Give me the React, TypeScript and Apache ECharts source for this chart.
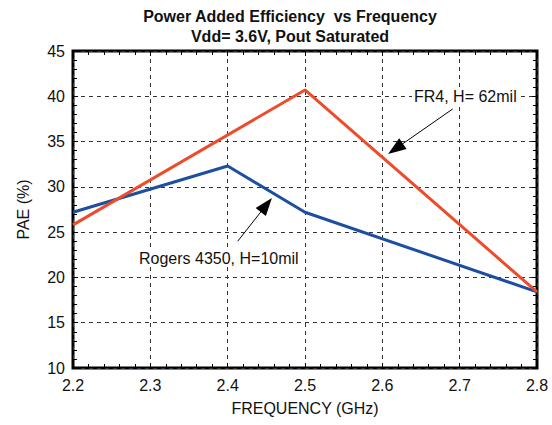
import React, { useEffect, useRef } from "react";
import * as echarts from "echarts";

const fr4Freq = [2.2, 2.5, 2.8];
const fr4Pae = [25.8, 40.7, 18.4];
const rogersFreq = [2.2, 2.4, 2.5, 2.8];
const rogersPae = [27.2, 32.3, 27.2, 18.4];

const fr4Arrow = [[2.691, 38.6], [2.617, 34.2]];
const rogersArrow = [[2.413, 24.0], [2.450, 28.0]];

const titleLines = ["Power Added Efficiency  vs Frequency", "Vdd= 3.6V, Pout Saturated"];
const fr4Label = "FR4, H= 62mil";
const rogersLabel = "Rogers 4350, H=10mil";

const FONT = "'Liberation Sans', Arial, Helvetica, sans-serif";

export default function App() {
  const ref = useRef<HTMLDivElement>(null);
  useEffect(() => {
    if (!ref.current) return;
    const chart = echarts.init(ref.current, null, { renderer: "svg" });
    const zip = (xs: number[], ys: number[]) => xs.map((x, i) => [x, ys[i]]);
    const gridDash = { show: true, lineStyle: { color: "#333", type: [4, 4] as any, width: 1 } };
    const arrowLine = (pts: number[][]) => ({
      silent: true,
      symbol: ["none", "triangle"],
      symbolSize: [13, 18],
      label: { show: false },
      lineStyle: { color: "#000", width: 1, type: "solid" },
      data: [[
        { coord: pts[0], symbol: "none" },
        { coord: pts[1], symbol: "triangle", symbolSize: [13, 18] },
      ]],
    });
    const tick = { show: true, inside: true, length: 5, lineStyle: { color: "#000" } };
    const minor = { show: true, splitNumber: 5, length: 4, lineStyle: { color: "#000" } };
    chart.setOption({
      animation: false,
      backgroundColor: "#fff",
      textStyle: { fontFamily: FONT },
      title: {
        text: titleLines.join("\n"),
        left: 285,
        top: 1,
        textAlign: "center",
        textStyle: { fontSize: 16, fontWeight: "bold", color: "#111", lineHeight: 20, fontFamily: FONT },
      },
      grid: {
        left: 73, top: 51, width: 464, height: 317,
        show: true, borderColor: "#000", borderWidth: 3, backgroundColor: "transparent",
      },
      xAxis: [
        {
          type: "value", min: 2.2, max: 2.8, interval: 0.1,
          name: "FREQUENCY (GHz)", nameLocation: "middle", nameGap: 32,
          nameTextStyle: { fontSize: 16, color: "#111", fontFamily: FONT },
          axisLine: { show: false },
          axisTick: tick,
          minorTick: minor,
          axisLabel: { fontSize: 16, color: "#111", margin: 9, formatter: (v: number) => v.toFixed(1), fontFamily: FONT },
          splitLine: gridDash,
        },
        {
          type: "value", min: 2.2, max: 2.8, interval: 0.1, position: "top",
          axisLine: { show: false },
          axisTick: tick,
          minorTick: minor,
          axisLabel: { show: false }, splitLine: { show: false },
        },
      ],
      yAxis: [
        {
          type: "value", min: 10, max: 45, interval: 5,
          name: "PAE (%)", nameLocation: "middle", nameGap: 42,
          nameTextStyle: { fontSize: 16, color: "#111", fontFamily: FONT },
          axisLine: { show: false },
          axisTick: tick,
          minorTick: minor,
          axisLabel: { fontSize: 16, color: "#111", margin: 8, fontFamily: FONT },
          splitLine: gridDash,
        },
        {
          type: "value", min: 10, max: 45, interval: 5, position: "right",
          axisLine: { show: false },
          axisTick: tick,
          minorTick: minor,
          axisLabel: { show: false }, splitLine: { show: false },
        },
      ],
      series: [
        {
          name: "Rogers 4350, H=10mil", type: "line", data: zip(rogersFreq, rogersPae),
          showSymbol: false, lineStyle: { color: "#1D4FA0", width: 3 }, itemStyle: { color: "#1D4FA0" },
          markLine: arrowLine(rogersArrow),
          z: 3,
        },
        {
          name: "FR4, H= 62mil", type: "line", data: zip(fr4Freq, fr4Pae),
          showSymbol: false, lineStyle: { color: "#EE4B2B", width: 3 }, itemStyle: { color: "#EE4B2B" },
          markLine: arrowLine(fr4Arrow),
          z: 4,
        },
      ],
      graphic: [
        {
          type: "text", x: 412, y: 96, z: 10,
          style: { text: fr4Label, fontSize: 16, fill: "#111", fontFamily: FONT, verticalAlign: "middle", backgroundColor: "#fff", padding: [1, 2] },
        },
        {
          type: "text", x: 137, y: 258, z: 10,
          style: { text: rogersLabel, fontSize: 16, fill: "#111", fontFamily: FONT, verticalAlign: "middle", backgroundColor: "#fff", padding: [1, 2] },
        },
      ],
    });
    return () => chart.dispose();
  }, []);
  return <div ref={ref} style={{ position: "fixed", left: 0, top: 0, width: 552, height: 425 }} />;
}
